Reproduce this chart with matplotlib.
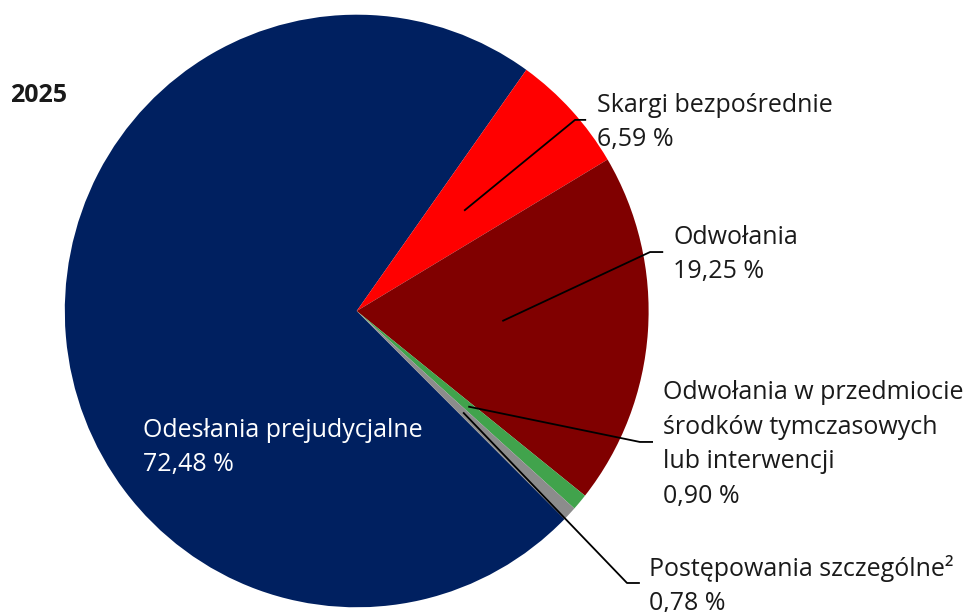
import matplotlib
matplotlib.use('Agg')
import matplotlib.pyplot as plt
import numpy as np

# ---- data ----
categories = ["Odesłania prejudycjalne",
              "Skargi bezpośrednie",
              "Odwołania",
              "Odwołania w przedmiocie\nśrodków tymczasowych\nlub interwencji",
              "Postępowania szczególne²"]
shares = [72.48, 6.59, 19.25, 0.90, 0.78]
value_labels = ["72,48 %", "6,59 %", "19,25 %", "0,90 %", "0,78 %"]
colors = ["#002060", "#FF0000", "#800000", "#41A34C", "#8C8C8C"]
year = "2025"

plt.rcParams['font.family'] = ['Open Sans', 'DejaVu Sans']
FS = 18
LS = 1.5
DY = -0.008  # small vertical offset of text blocks relative to leader ends

fig = plt.figure(figsize=(9.7, 6.12), dpi=100)
ax = fig.add_axes([0, 0, 1, 1])
wedges, _ = ax.pie(shares, colors=colors, startangle=315.4, counterclock=False,
                   radius=1, wedgeprops=dict(linewidth=0))
ax.set_aspect('auto')
ax.set_xlim(-1.222, 2.101)
ax.set_ylim(-1.0159, 1.0496)
ax.axis('off')

# leader-line layout (elbow point, end x, text x) for outside labels
layout = {
    1: ((0.748, 0.645), 0.786, 0.824),
    2: ((1.005, 0.199), 1.050, 1.084),
    3: ((0.970, -0.442), 1.015, 1.049),
    4: ((0.926, -0.918), 0.970, 1.001),
}

for i, w in enumerate(wedges):
    label = categories[i] + "\n" + value_labels[i]
    if i == 0:
        ax.text(-0.732, -0.452 + DY, label, color='white', fontsize=FS, ha='left',
                va='center', linespacing=LS)
        continue
    (ex, ey), endx, tx = layout[i]
    mid = np.deg2rad((w.theta1 + w.theta2) / 2)
    sx, sy = 0.5 * np.cos(mid), 0.5 * np.sin(mid)
    ax.plot([sx, ex, endx], [sy, ey, ey], color='black', lw=1.3,
            solid_capstyle='butt', solid_joinstyle='round')
    ax.text(tx, ey + DY, label, color='#1a1a1a', fontsize=FS, ha='left', va='center',
            linespacing=LS)

fig.text(10 / 970, 1 - 102 / 612, year, fontsize=FS, fontweight='bold',
         color='#1a1a1a', ha='left', va='baseline')

fig.savefig('out.png', dpi=100)
